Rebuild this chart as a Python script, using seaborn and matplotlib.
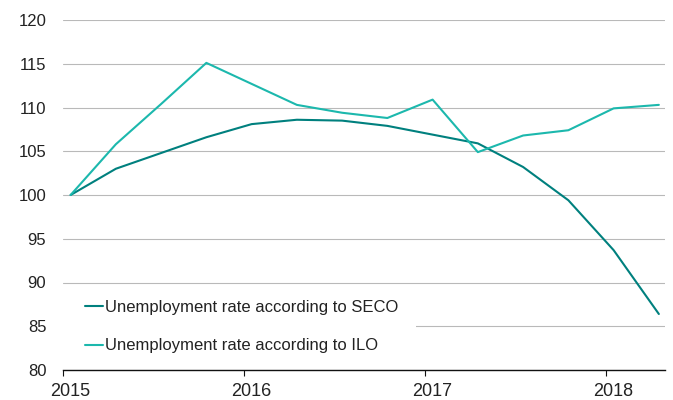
import matplotlib
matplotlib.use("Agg")
import matplotlib.pyplot as plt
import matplotlib.patches as mpatches
import seaborn as sns
import pandas as pd

# ---- data ----
quarters = ["2015Q1", "2015Q2", "2015Q3", "2015Q4",
            "2016Q1", "2016Q2", "2016Q3", "2016Q4",
            "2017Q1", "2017Q2", "2017Q3", "2017Q4",
            "2018Q1", "2018Q2"]
seco = [100.0, 103.0, 104.8, 106.6, 108.1, 108.6, 108.5, 107.9, 106.9, 105.9, 103.2, 99.4, 93.7, 86.4]
ilo = [100.0, 105.8, 110.4, 115.1, 112.7, 110.3, 109.4, 108.8, 110.9, 104.9, 106.8, 107.4, 109.9, 110.3]
series_names = ["Unemployment rate according to SECO", "Unemployment rate according to ILO"]
colors = ["#00807e", "#1cb8ad"]
year_ticks = [2015, 2016, 2017, 2018]
y_ticks = [80, 85, 90, 95, 100, 105, 110, 115, 120]

# points sit mid-January / April / July / October
OFFSET = 0.042
def qpos(q):
    return int(q[:4]) + (int(q[-1]) - 1) * 0.25 + OFFSET

xs = [qpos(q) for q in quarters]
df = pd.DataFrame({
    "x": xs * 2,
    "value": seco + ilo,
    "series": [series_names[0]] * len(seco) + [series_names[1]] * len(ilo),
})

sns.set_theme(style="white")
plt.rcParams["font.family"] = ["Liberation Sans", "DejaVu Sans"]

fig = plt.figure(figsize=(6.73, 4.0), dpi=100)
ax = fig.add_axes([63 / 673, 1 - 370 / 400, (665 - 63) / 673, 350 / 400])

sns.lineplot(data=df, x="x", y="value", hue="series", palette=colors,
             linewidth=1.5, ax=ax, zorder=3, legend=True)

ax.set_xlim(2015, 2015 + (665 - 63) / 181.0)
ax.set_ylim(80, 120)
# tick marks at year boundaries, labels under the first point of each year
ax.set_xticks(year_ticks)
ax.set_xticklabels([])
ax.set_xticks([y + OFFSET for y in year_ticks], minor=True)
ax.set_xticklabels([str(y) for y in year_ticks], minor=True)
ax.set_yticks(y_ticks)
ax.set_yticklabels([str(v) for v in y_ticks])
ax.set_xlabel("")
ax.set_ylabel("")

ax.yaxis.grid(True, color="#b9b9b9", linewidth=0.8, zorder=0)
ax.xaxis.grid(False, which="both")
ax.set_axisbelow(True)
for s in ["top", "right", "left"]:
    ax.spines[s].set_visible(False)
ax.spines["bottom"].set_color("#111111")
ax.spines["bottom"].set_linewidth(1.0)
ax.spines["bottom"].set_zorder(4)

ax.tick_params(axis="y", length=0, pad=12, labelsize=12, labelcolor="#222222")
ax.tick_params(axis="x", which="major", length=4.5, width=0.8, color="#111111",
               direction="out", bottom=True)
ax.tick_params(axis="x", which="minor", length=0, pad=9.5, labelsize=13,
               labelcolor="#222222", bottom=True)

# white panel behind legend (hides the 85 gridline as in reference)
rect = mpatches.Rectangle((0, 0.03), (416 - 63) / 602, 0.2, transform=ax.transAxes,
                          facecolor="white", edgecolor="none", zorder=1)
ax.add_patch(rect)

handles, labels = ax.get_legend_handles_labels()
leg = ax.legend(handles, labels, loc="upper left",
                bbox_to_anchor=((85 - 63) / 602, (370 - 300) / 350),
                frameon=False, fontsize=12, handlelength=1.1, handletextpad=0.08,
                labelspacing=1.4, borderpad=0, borderaxespad=0)
for t in leg.get_texts():
    t.set_color("#222222")

fig.savefig("out.png", dpi=100)
